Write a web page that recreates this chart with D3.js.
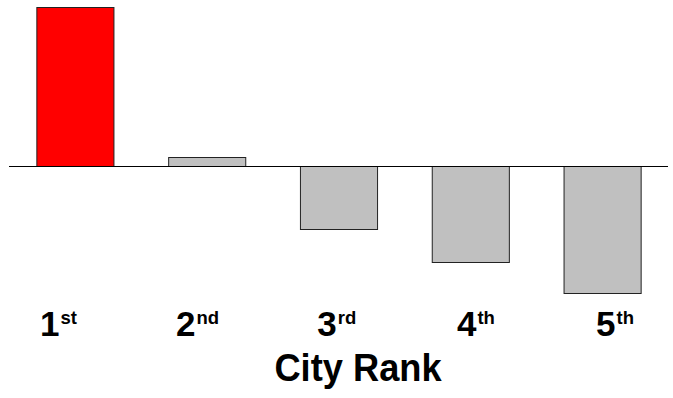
<!DOCTYPE html>
<html>
<head>
<meta charset="utf-8">
<script src="https://cdn.jsdelivr.net/npm/d3@7"></script>
<style>
  body { margin: 0; background: #fff; }
  text { font-family: "Liberation Sans", Arial, sans-serif; font-weight: bold; fill: #000; }
</style>
</head>
<body>
<svg width="673" height="398"></svg>
<script>
var ranks = ["1", "2", "3", "4", "5"];
var suffixes = ["st", "nd", "rd", "th", "th"];
var values = [50, 2.8, -20, -30.2, -40];
var colors = ["#ff0000", "#c0c0c0", "#c0c0c0", "#c0c0c0", "#c0c0c0"];
var axisTitle = "City Rank";

var svg = d3.select("svg"),
    width = +svg.attr("width"),
    height = +svg.attr("height");

var x = d3.scaleBand()
    .domain(ranks)
    .range([9, 668])
    .paddingInner(0.415)
    .paddingOuter(0.2075);

var y = d3.scaleLinear()
    .domain(d3.extent(values))
    .range([292.3, 7]);

// label positions don't line up with the bars exactly
var lx = d3.scalePoint()
    .domain(ranks)
    .range([58.5, 615]);

svg.append("g")
  .selectAll("rect")
  .data(values)
  .enter().append("rect")
    .attr("x", function(d, i) { return x(ranks[i]) + 0.5; })
    .attr("y", function(d) { return Math.round(Math.min(y(d), y(0))) + 0.5; })
    .attr("width", x.bandwidth())
    .attr("height", function(d) { return Math.round(Math.abs(y(d) - y(0))); })
    .attr("fill", function(d, i) { return colors[i]; })
    .attr("stroke", "#222")
    .attr("stroke-width", 1);

svg.append("line")
    .attr("x1", x.range()[0])
    .attr("x2", x.range()[1])
    .attr("y1", Math.round(y(0)) + 0.5)
    .attr("y2", Math.round(y(0)) + 0.5)
    .attr("stroke", "#000")
    .attr("stroke-width", 1.2);

var lbl = svg.append("g")
  .selectAll("text")
  .data(ranks)
  .enter().append("text")
    .attr("x", function(d) { return lx(d); })
    .attr("y", 336.3)
    .attr("text-anchor", "middle")
    .style("font-size", "35px");
lbl.append("tspan").text(function(d) { return d; });
lbl.append("tspan")
    .attr("dx", 1)
    .attr("dy", -12.5)
    .style("font-size", "18.5px")
    .text(function(d, i) { return suffixes[i]; });

svg.append("text")
    .attr("transform", "translate(358,381) scale(0.93,1)")
    .attr("text-anchor", "middle")
    .style("font-size", "39px")
    .text(axisTitle);
</script>
</body>
</html>
